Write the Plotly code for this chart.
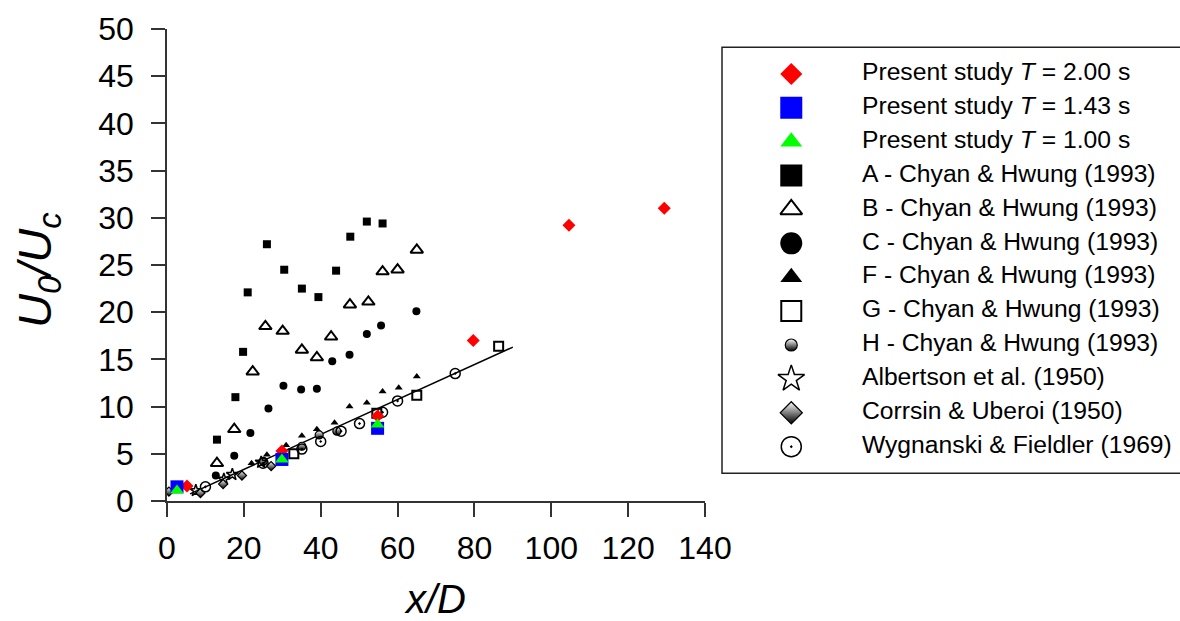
import plotly.graph_objects as go

# ---------------- data ----------------
t200_x = [5.2, 29.9, 54.8, 79.7, 104.6, 129.4]
t200_y = [1.6, 5.3, 9.0, 17.0, 29.2, 31.0]
t143_x = [2.6, 29.9, 54.8]
t143_y = [1.5, 4.4, 7.7]
t100_x = [2.6, 29.9, 54.8]
t100_y = [1.1, 4.4, 8.1]

a_x = [13.0, 17.8, 19.8, 21.0, 26.0, 30.5, 35.1, 39.4, 44.0, 47.7, 52.0, 56.1]
a_y = [6.5, 11.0, 15.8, 22.1, 27.2, 24.5, 22.5, 21.6, 24.4, 28.0, 29.6, 29.4]
b_x = [13.0, 17.5, 22.3, 25.6, 30.1, 35.1, 39.0, 42.7, 47.6, 52.4, 56.1, 60.0, 65.0]
b_y = [4.0, 7.6, 13.7, 18.5, 18.0, 16.0, 15.2, 17.4, 20.8, 21.1, 24.3, 24.5, 26.6]
c_x = [12.7, 17.5, 21.7, 26.4, 30.3, 34.9, 39.0, 43.0, 47.5, 52.0, 55.7, 64.9]
c_y = [2.7, 4.8, 7.2, 9.8, 12.2, 11.8, 11.9, 14.8, 15.5, 17.7, 18.6, 20.1]
f_x = [22.0, 26.0, 31.0, 35.1, 39.0, 43.6, 47.5, 52.0, 56.1, 60.3, 65.0]
f_y = [4.0, 4.9, 5.9, 6.9, 7.6, 8.3, 10.0, 10.4, 11.6, 12.0, 13.2]
g_x = [33.0, 54.6, 65.0, 86.3]
g_y = [5.0, 9.3, 11.2, 16.4]
h_x = [25.1, 35.1, 39.6, 44.2]
h_y = [4.2, 5.8, 7.0, 7.4]
alb_x = [7.5, 14.8, 17.0, 24.5]
alb_y = [1.1, 2.3, 2.8, 4.1]
cor_x = [0.5, 8.7, 14.6, 19.5, 27.1]
cor_y = [1.0, 0.85, 1.8, 2.7, 3.7]
wyg_x = [10.0, 25.0, 35.1, 40.0, 45.3, 50.1, 56.1, 60.0, 75.0]
wyg_y = [1.5, 4.0, 5.5, 6.3, 7.4, 8.2, 9.4, 10.6, 13.5]
fit_x = [6.0, 90.0]
fit_y = [0.76, 16.3]

x_ticks = [0, 20, 40, 60, 80, 100, 120, 140]
y_ticks = [0, 5, 10, 15, 20, 25, 30, 35, 40, 45, 50]

legend_labels = [
    "Present study <i>T</i> = 2.00 s",
    "Present study <i>T</i> = 1.43 s",
    "Present study <i>T</i> = 1.00 s",
    "A - Chyan &amp; Hwung (1993)",
    "B - Chyan &amp; Hwung (1993)",
    "C - Chyan &amp; Hwung (1993)",
    "F - Chyan &amp; Hwung (1993)",
    "G - Chyan &amp; Hwung (1993)",
    "H - Chyan &amp; Hwung (1993)",
    "Albertson et al. (1950)",
    "Corrsin &amp; Uberoi (1950)",
    "Wygnanski &amp; Fieldler (1969)",
]

# ---------------- styles ----------------
FONT = "Liberation Sans, Arial, sans-serif"
half = dict(type="vertical", color="black")

# (x, y, symbol, color, size, line width, line colour, gradient, legend size)
series = [
    (a_x, a_y, "square", "black", 8, 0, "black", None, 22),
    (b_x, b_y, "triangle-up-open", "black", 11, 2, "black", None, 19),
    (c_x, c_y, "circle", "black", 8, 0, "black", None, 22),
    (f_x, f_y, "triangle-up", "black", 7, 0, "black", None, 19),
    (g_x, g_y, "square-open", "black", 9, 2, "black", None, 20),
    (h_x, h_y, "circle", "white", 8, 1.2, "black", half, 12),
    (alb_x, alb_y, "star-open", "black", 9, 1.5, "black", None, 20),
    (cor_x, cor_y, "diamond", "white", 7, 1.2, "black", half, 17),
    (wyg_x, wyg_y, "circle-open-dot", "black", 10, 1.5, "black", None, 20),
]
present = [
    (t200_x, t200_y, "diamond", "#ff0000", 10, 0, "#ff0000", None, 17),
    (t143_x, t143_y, "square", "#0000ff", 13, 0, "#0000ff", None, 22),
    (t100_x, t100_y, "triangle-up", "#00ff00", 12, 0, "#00ff00", None, 19),
]

fig = go.Figure()

# fitted line
fig.add_trace(go.Scatter(x=fit_x, y=fit_y, mode="lines",
                         line=dict(color="black", width=1.5),
                         showlegend=False, hoverinfo="skip"))


def mk(sym, col, size, lw, lc, grad):
    m = dict(symbol=sym, color=col, size=size, line=dict(width=lw, color=lc))
    if grad is not None:
        m["gradient"] = grad
    return m


for (xs, ys, sym, col, size, lw, lc, grad, ls) in series + present:
    fig.add_trace(go.Scatter(x=xs, y=ys, mode="markers",
                             marker=mk(sym, col, size, lw, lc, grad),
                             showlegend=False))

# ---------------- legend panel (drawn on its own axes) ----------------
leg_styles = present + series
for lab, (xs, ys, sym, col, size, lw, lc, grad, ls) in zip(legend_labels, leg_styles):
    fig.add_trace(go.Scatter(x=[0], y=[lab], mode="markers",
                             marker=mk(sym, col, ls, lw, lc, grad),
                             xaxis="x2", yaxis="y2", showlegend=False,
                             hoverinfo="skip"))
fig.add_trace(go.Scatter(x=[1] * len(legend_labels), y=legend_labels,
                         text=legend_labels, mode="text",
                         textposition="middle right",
                         textfont=dict(family=FONT, size=24.7, color="black"),
                         xaxis="x2", yaxis="y2", showlegend=False,
                         hoverinfo="skip"))

axis_common = dict(showline=True, linecolor="#333333", linewidth=1.5,
                   ticks="outside", ticklen=14, tickwidth=1.5,
                   tickcolor="#333333", showgrid=False, zeroline=False,
                   automargin=False,
                   tickfont=dict(family=FONT, size=32, color="black"))

fig.update_layout(
    width=1180, height=621, autosize=False,
    margin=dict(l=167, r=0, t=29, b=120, pad=0, autoexpand=False),
    paper_bgcolor="white", plot_bgcolor="white",
    font=dict(family=FONT, color="black"),
    showlegend=False,
    xaxis=dict(domain=[0, 538 / 1013], range=[0, 140], tickvals=x_ticks,
               ticklabelstandoff=4,
               title=dict(text="<i>x/D</i>", font=dict(family=FONT, size=40),
                          standoff=41),
               **axis_common),
    yaxis=dict(range=[0, 50], tickvals=y_ticks, ticklabelstandoff=11,
               **axis_common),
    xaxis2=dict(domain=[555 / 1013, 1], range=[-0.98, 5.50],
                visible=False, anchor="y2", automargin=False),
    yaxis2=dict(domain=[(501 - 473.3) / 472, (501 - 47.3) / 472],
                type="category", categoryarray=legend_labels,
                range=[11.787, -0.787], visible=False, anchor="x2",
                automargin=False),
    annotations=[dict(text="<i>U<sub>0</sub>/U<sub>c</sub></i>",
                      xref="paper", yref="paper",
                      x=(38 - 167) / 1013, y=(501 - 270) / 472,
                      xanchor="center", yanchor="middle", textangle=-90,
                      showarrow=False,
                      font=dict(family=FONT, size=47, color="black"))],
    shapes=[dict(type="rect", xref="paper", yref="paper",
                 x0=555 / 1013, x1=1.02,
                 y0=(501 - 473.3) / 472, y1=(501 - 47.3) / 472,
                 line=dict(color="#222222", width=1.5))],
)

fig.write_html(
    "out.html",
    config={"responsive": False, "displayModeBar": False},
    post_script="document.body.style.margin='0px';"
                "document.body.style.overflow='hidden';",
)
